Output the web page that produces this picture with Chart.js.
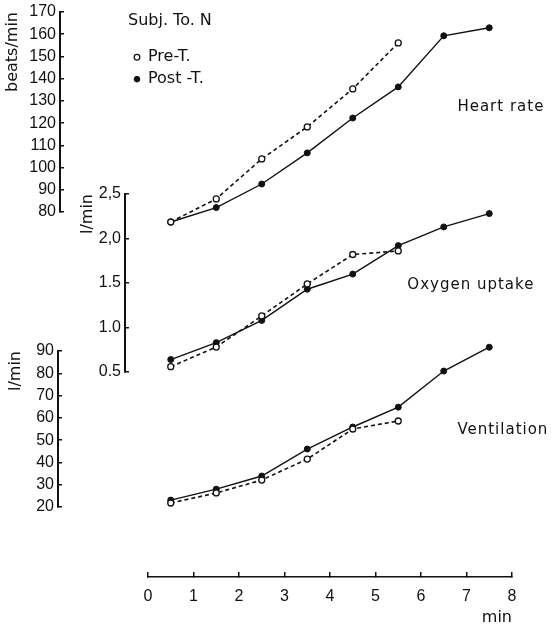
<!DOCTYPE html>
<html>
<head>
<meta charset="utf-8">
<script src="https://cdn.jsdelivr.net/npm/chart.js@4.4.1/dist/chart.umd.min.js"></script>
<style>
  html, body { margin: 0; padding: 0; background: #fff; }
  #wrap { width: 553px; height: 627px; position: relative; }
</style>
</head>
<body>
<div id="wrap"><canvas id="graph"></canvas></div>
<script>
// minutes of exercise (mid-minute points)
var minutes = [0.5, 1.5, 2.5, 3.5, 4.5, 5.5, 6.5, 7.5];

// heart rate, beats/min
var hrPre = [75.5, 85.9, 103.9, 118.3, 135.4, 156.1];
var hrPost = [75.5, 82.0, 92.6, 106.6, 122.3, 136.3, 159.3, 162.9];

// oxygen uptake, l/min
var o2Pre = [0.56, 0.78, 1.13, 1.49, 1.82, 1.86];
var o2Post = [0.64, 0.83, 1.08, 1.43, 1.60, 1.92, 2.13, 2.28];

// ventilation, l/min
var vePre = [21.8, 26.3, 32.1, 41.5, 55.0, 58.6];
var vePost = [23.1, 28.0, 33.9, 46.0, 55.9, 64.8, 81.0, 91.7];

var o2TickLabels = ['0.5', '1.0', '1.5', '2,0', '2,5'];
var panelNames = ['Heart rate', 'Oxygen uptake', 'Ventilation'];

function pts(vals) {
    return vals.map(function (v, i) { return { x: minutes[i], y: v }; });
}

function pre(vals, axis) {
    return {
        label: 'Pre-T.', data: pts(vals), yAxisID: axis,
        borderColor: '#111', borderWidth: 1.6, borderDash: [4, 3],
        pointRadius: 3, pointBackgroundColor: '#fff', pointBorderColor: '#111', pointBorderWidth: 1.3,
        clip: false
    };
}
function post(vals, axis) {
    return {
        label: 'Post -T.', data: pts(vals), yAxisID: axis,
        borderColor: '#111', borderWidth: 1.4,
        pointRadius: 3, pointBackgroundColor: '#111', pointBorderColor: '#111', pointBorderWidth: 1,
        clip: false
    };
}

var tickFont = { family: '"Liberation Sans", Arial, sans-serif', size: 16 };
var textFont = { family: '"DejaVu Sans", sans-serif', size: 16 };

function yAxis(min, max, step, title, labels) {
    return {
        type: 'linear', position: 'left', min: min, max: max,
        ticks: {
            stepSize: step, autoSkip: false, color: '#111', font: tickFont, padding: 8,
            callback: function (v, i) { return labels ? labels[i] : v; }
        },
        grid: { display: true, drawOnChartArea: false, color: '#111', lineWidth: 1.5, tickLength: -4 },
        border: { display: true, color: '#111', width: 2 },
        title: { display: true, text: title, align: 'end', color: '#111', font: textFont, padding: 0 }
    };
}

// put each axis where it sits in the figure
var placePanels = {
    id: 'placePanels',
    afterLayout: function (chart) {
        var place = function (s, l, r, t, b) {
            s.left = l; s.right = r; s.top = t; s.bottom = b;
            s.width = r - l; s.height = b - t;
            s.configure();
        };
        place(chart.scales.x, 148, 512, 577, 627);
        place(chart.scales.yHR, 3, 60, 12, 212);
        place(chart.scales.yO2, 78, 125, 194, 372);
        place(chart.scales.yVE, 6, 58, 351, 507);
        // whole canvas is plot area, so no point gets dropped
        chart.chartArea = { left: 0, top: 0, right: chart.width, bottom: chart.height, width: chart.width, height: chart.height };
        var lg = chart.legend;
        lg.left = 128; lg.top = 13; lg.right = 280; lg.bottom = 110;
        lg.width = lg.right - lg.left; lg.height = lg.bottom - lg.top;
    },
    afterDatasetsDraw: function (chart) {
        var ctx = chart.ctx, sc = chart.scales;
        ctx.save();
        ctx.font = '15px "DejaVu Sans", sans-serif';
        ctx.letterSpacing = '1px';
        ctx.fillStyle = '#111';
        ctx.textBaseline = 'middle';
        ctx.textAlign = 'left';
        ctx.fillText(panelNames[0], sc.x.getPixelForValue(6.8), sc.yHR.getPixelForValue(127.2));
        ctx.fillText(panelNames[1], sc.x.getPixelForValue(5.7), sc.yO2.getPixelForValue(1.48));
        ctx.fillText(panelNames[2], sc.x.getPixelForValue(6.8), sc.yVE.getPixelForValue(54.5));
        ctx.restore();
    }
};

var ctx = document.getElementById('graph').getContext('2d');
var data = {
    datasets: [
        pre(hrPre, 'yHR'), post(hrPost, 'yHR'),
        pre(o2Pre, 'yO2'), post(o2Post, 'yO2'),
        pre(vePre, 'yVE'), post(vePost, 'yVE')
    ]
};
var options = {
    responsive: true,
    maintainAspectRatio: false,
    animation: false,
    devicePixelRatio: 1,
    scales: {
        x: {
            type: 'linear', position: 'bottom', min: 0, max: 8,
            ticks: { stepSize: 1, autoSkip: false, color: '#111', font: tickFont, padding: 15 },
            grid: { display: true, drawOnChartArea: false, color: '#111', lineWidth: 1.5, tickLength: -5 },
            border: { display: true, color: '#111', width: 1.5 },
            title: { display: true, text: 'min', align: 'end', color: '#111', font: textFont, padding: 0 }
        },
        yHR: yAxis(80, 170, 10, 'beats/min'),
        yO2: yAxis(0.5, 2.5, 0.5, 'l/min', o2TickLabels),
        yVE: yAxis(20, 90, 10, 'l/min')
    },
    plugins: {
        legend: {
            position: 'left', align: 'start',
            title: { display: true, text: 'Subj. To. N', color: '#111', font: textFont, position: 'start', padding: { top: 0, bottom: 11 } },
            labels: {
                usePointStyle: true, boxWidth: 6, boxHeight: 4, padding: 6,
                color: '#111', font: textFont,
                filter: function (item) { return item.datasetIndex < 2; }
            }
        },
        tooltip: { enabled: false }
    }
};
var config = {
    type: 'line',
    data: data,
    options: options,
    plugins: [placePanels]
};
var graph = new Chart(ctx, config);
</script>
</body>
</html>
